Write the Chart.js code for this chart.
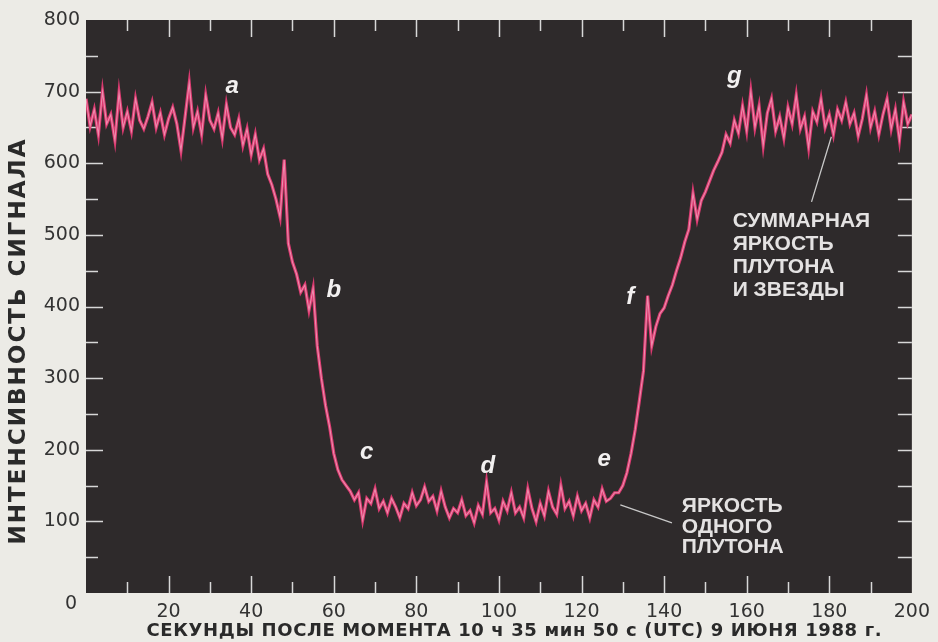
<!DOCTYPE html>
<html>
<head>
<meta charset="utf-8">
<script src="https://cdn.jsdelivr.net/npm/chart.js@4.4.1/dist/chart.umd.min.js"></script>
<style>
  html, body { margin: 0; padding: 0; background: #ecebe6; }
  canvas { display: block; }
</style>
</head>
<body>
<canvas id="occultation" width="938" height="642"></canvas>
<script>
// time after 10:35:50 UTC, 9 June 1988 (seconds)
const seconds = [
    0, 1, 2, 3, 4, 5, 6, 7, 8, 9, 10, 11, 12, 13, 14, 15, 16, 17, 18, 19,
    20, 21, 22, 23, 24, 25, 26, 27, 28, 29, 30, 31, 32, 33, 34, 35, 36, 37, 38, 39,
    40, 41, 42, 43, 44, 45, 46, 47, 48, 49, 50, 51, 52, 53, 54, 55, 56, 57, 58, 59,
    60, 61, 62, 63, 64, 65, 66, 67, 68, 69, 70, 71, 72, 73, 74, 75, 76, 77, 78, 79,
    80, 81, 82, 83, 84, 85, 86, 87, 88, 89, 90, 91, 92, 93, 94, 95, 96, 97, 98, 99,
    100, 101, 102, 103, 104, 105, 106, 107, 108, 109, 110, 111, 112, 113, 114, 115, 116, 117, 118, 119,
    120, 121, 122, 123, 124, 125, 126, 127, 128, 129, 130, 131, 132, 133, 134, 135, 136, 137, 138, 139,
    140, 141, 142, 143, 144, 145, 146, 147, 148, 149, 150, 151, 152, 153, 154, 155, 156, 157, 158, 159,
    160, 161, 162, 163, 164, 165, 166, 167, 168, 169, 170, 171, 172, 173, 174, 175, 176, 177, 178, 179,
    180, 181, 182, 183, 184, 185, 186, 187, 188, 189, 190, 191, 192, 193, 194, 195, 196, 197, 198, 199,
    200
];

// signal intensity
const intensity = [
    690, 652, 675, 640, 700, 655, 668, 632, 698, 650, 672, 645, 690, 660, 648, 665, 685, 650, 670, 640,
    662, 678, 655, 618, 665, 712, 650, 672, 640, 695, 660, 648, 670, 635, 682, 650, 640, 662, 625, 648,
    612, 640, 605, 620, 585, 570, 550, 525, 605, 488, 462, 445, 420, 430, 395, 425, 345, 300, 262, 232,
    195, 172, 158, 150, 142, 130, 140, 102, 132, 125, 145, 118, 128, 112, 132, 120, 105, 125, 118, 140,
    122, 130, 148, 128, 135, 115, 142, 120, 105, 118, 112, 130, 108, 115, 98, 122, 110, 155, 112, 118,
    102, 128, 115, 140, 112, 120, 105, 145, 118, 100, 125, 108, 142, 120, 110, 150, 118, 128, 108, 135,
    115, 125, 105, 130, 120, 145, 128, 132, 140, 140, 150, 168, 195, 228, 268, 310, 415, 345, 372, 390,
    398, 415, 430, 450, 468, 490, 508, 558, 522, 548, 560, 575, 590, 602, 615, 640, 628, 660, 642, 680,
    645, 700, 650, 680, 625, 670, 690, 645, 665, 635, 678, 655, 695, 648, 665, 622, 672, 658, 690, 650,
    668, 640, 675, 660, 685, 655, 670, 638, 662, 695, 650, 672, 640, 668, 690, 648, 675, 632, 685, 655,
    668
];

const yTicks = [0, 100, 200, 300, 400, 500, 600, 700, 800];
const xTicks = [0, 20, 40, 60, 80, 100, 120, 140, 160, 180, 200];

const xTitle = 'СЕКУНДЫ ПОСЛЕ МОМЕНТА 10 ч 35 мин 50 с (UTC) 9 ИЮНЯ 1988 г.';
const yTitle = 'ИНТЕНСИВНОСТЬ СИГНАЛА';

// phase letters along the curve: [letter, second, intensity]
const phaseLetters = [
    ['a', 35.4, 707], ['b', 60, 423], ['c', 68, 197], ['d', 97.3, 177],
    ['e', 125.5, 186], ['f', 131.8, 413], ['g', 157, 721]
];

const totalLabel = ['СУММАРНАЯ', 'ЯРКОСТЬ', 'ПЛУТОНА', 'И ЗВЕЗДЫ'];
const plutoLabel = ['ЯРКОСТЬ', 'ОДНОГО', 'ПЛУТОНА'];

const points = seconds.map((s, i) => ({ x: s, y: intensity[i] }));

// draw text centred and stretched to a given width with letter spacing
function spacedText(ctx, text, cx, cy, width) {
    ctx.letterSpacing = '0px';
    const w = ctx.measureText(text).width;
    ctx.letterSpacing = ((width - w) / (text.length - 1)) + 'px';
    ctx.textAlign = 'left';
    ctx.fillText(text, cx - width / 2, cy);
    ctx.letterSpacing = '0px';
}

const frame = {
    id: 'frame',
    beforeDraw(chart) {
        const { ctx, chartArea: a } = chart;
        ctx.save();
        ctx.fillStyle = '#ecebe6';
        ctx.fillRect(0, 0, chart.width, chart.height);
        ctx.fillStyle = '#2e2a2b';
        ctx.fillRect(a.left, a.top, a.right - a.left, a.bottom - a.top);
        ctx.restore();
    },
    beforeDatasetsDraw(chart) {
        const { ctx, chartArea: a, scales: { x, y } } = chart;
        ctx.save();
        ctx.strokeStyle = '#d8d8d8';
        ctx.lineWidth = 1.5;
        ctx.beginPath();
        for (let v = 50; v < 800; v += 50) {
            const py = Math.round(y.getPixelForValue(v)) + 0.5;
            const len = v % 100 === 0 ? 17 : 12;
            ctx.moveTo(a.left, py);
            ctx.lineTo(a.left + len, py);
            ctx.moveTo(a.right, py);
            ctx.lineTo(a.right - 14, py);
        }
        for (let v = 10; v < 200; v += 10) {
            const px = Math.round(x.getPixelForValue(v)) + 0.5;
            const len = v % 20 === 0 ? 17 : 11;
            ctx.moveTo(px, a.bottom);
            ctx.lineTo(px, a.bottom - len);
            ctx.moveTo(px, a.top);
            ctx.lineTo(px, a.top + len);
        }
        ctx.stroke();
        ctx.restore();
    },
    afterDatasetsDraw(chart) {
        const { ctx, scales: { x, y } } = chart;
        ctx.save();

        // the shared zero label sits below the corner
        ctx.fillStyle = '#333';
        ctx.font = '19px "DejaVu Sans"';
        ctx.textAlign = 'center';
        ctx.textBaseline = 'middle';
        ctx.fillText('0', x.getPixelForValue(0) - 15, y.getPixelForValue(0) + 11);

        // axis titles
        ctx.fillStyle = '#2a2a2a';
        ctx.font = 'bold 18px "DejaVu Sans"';
        spacedText(ctx, xTitle, 514, 631, 735);
        ctx.save();
        ctx.translate(19, 342);
        ctx.rotate(-Math.PI / 2);
        ctx.font = 'bold 23px "DejaVu Sans"';
        spacedText(ctx, yTitle, 0, 0, 405);
        ctx.restore();

        ctx.fillStyle = '#f2f0f0';
        ctx.textAlign = 'center';
        ctx.font = 'italic bold 24px "Liberation Sans"';
        phaseLetters.forEach(([t, s, v]) => {
            ctx.fillText(t, x.getPixelForValue(s), y.getPixelForValue(v));
        });

        // pointer lines
        ctx.strokeStyle = '#c8c8c8';
        ctx.lineWidth = 1.3;
        ctx.beginPath();
        ctx.moveTo(x.getPixelForValue(180.5), y.getPixelForValue(637));
        ctx.lineTo(x.getPixelForValue(175.7), y.getPixelForValue(546));
        ctx.moveTo(x.getPixelForValue(129.4), y.getPixelForValue(123));
        ctx.lineTo(x.getPixelForValue(141.9), y.getPixelForValue(98));
        ctx.stroke();

        ctx.fillStyle = '#e4e2e2';
        ctx.font = 'bold 21px "Liberation Sans"';
        ctx.textAlign = 'left';
        ctx.textBaseline = 'alphabetic';
        let bx = x.getPixelForValue(156.6), by = y.getPixelForValue(511);
        totalLabel.forEach((line, i) => ctx.fillText(line, bx, by + i * 23));
        bx = x.getPixelForValue(144.3);
        by = y.getPixelForValue(113);
        plutoLabel.forEach((line, i) => ctx.fillText(line, bx, by + i * 20.5));

        ctx.restore();
    }
};

new Chart(document.getElementById('occultation'), {
    type: 'line',
    data: {
        datasets: [{
            data: points,
            borderColor: 'rgba(255, 205, 222, 0.55)',
            borderWidth: 1.1,
            pointRadius: 0,
            tension: 0
        }, {
            data: points,
            borderColor: 'rgb(218, 58, 112)',
            borderWidth: 3.2,
            pointRadius: 0,
            tension: 0
        }]
    },
    options: {
        responsive: false,
        animation: false,
        layout: { padding: { top: 20, right: 22, left: 0, bottom: 0 } },
        plugins: {
            legend: { display: false },
            tooltip: { enabled: false }
        },
        scales: {
            x: {
                type: 'linear',
                min: 0,
                max: 200,
                afterBuildTicks: scale => { scale.ticks = xTicks.map(v => ({ value: v })); },
                afterFit: scale => { scale.height = 49; },
                grid: { display: false, drawTicks: false },
                border: { display: false },
                ticks: {
                    color: '#333',
                    font: { family: 'DejaVu Sans', size: 19 },
                    padding: 8,
                    maxRotation: 0,
                    callback: v => v === 0 ? '' : v
                }
            },
            y: {
                min: 0,
                max: 800,
                afterBuildTicks: scale => { scale.ticks = yTicks.map(v => ({ value: v })); },
                afterFit: scale => { scale.width = 86; },
                grid: { display: false, drawTicks: false },
                border: { display: false },
                ticks: {
                    color: '#333',
                    font: { family: 'DejaVu Sans', size: 19 },
                    padding: 6,
                    callback: v => v === 0 ? '' : v
                }
            }
        }
    },
    plugins: [frame]
});
</script>
</body>
</html>
